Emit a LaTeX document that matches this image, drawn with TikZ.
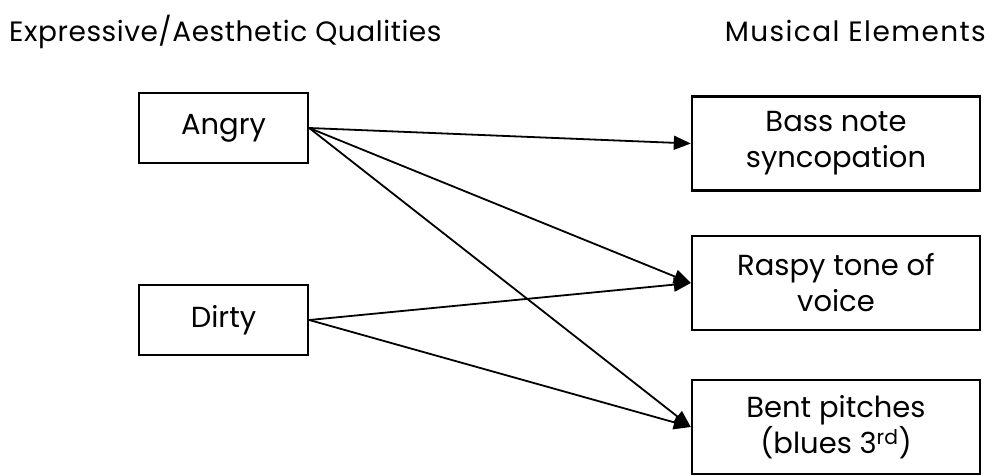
\documentclass[tikz,border=0pt]{standalone}
\usepackage{fontspec}
\setmainfont{Poppins}
\usetikzlibrary{arrows.meta}
\begin{document}
\begin{tikzpicture}[x=1pt,y=-1pt]
       \tikzstyle{headnode}=[inner sep=0pt, font=\fontsize{28}{32}\selectfont\addfontfeatures{LetterSpace=2}]
       \tikzstyle{qualbox}=[draw, line width=2.4pt, minimum width=169pt, minimum height=70pt, font=\fontsize{29}{34}\selectfont]
       \tikzstyle{elembox}=[draw, line width=2.4pt, minimum width=288pt, minimum height=94pt, align=center, font=\fontsize{29}{36}\selectfont]
       \tikzstyle{link}=[line width=1.8pt, -{Triangle[length=17pt,width=14pt]}]
       \useasboundingbox (0,0) rectangle (993,474);
       \node[headnode, anchor=base west] (qualhead) at (9,41) {Expressive/Aesthetic Qualities};
       \node[headnode, anchor=base east, font=\fontsize{28}{32}\selectfont\addfontfeatures{LetterSpace=5}] (elemhead) at (986,41) {Musical Elements};
       \node[qualbox] (angry) at (223.5,128) {Angry};
       \node[qualbox] (dirty) at (223.5,320) {Dirty};
       \node[elembox] (bass) at (836,143.5) {Bass note\\syncopation};
       \node[elembox] (raspy) at (836,283) {Raspy tone of\\voice};
       \node[elembox] (bent) at (836,427) {Bent pitches\\(blues 3\textsuperscript{rd})};
       \draw[link] (angry.east) -- (bass.west);
       \draw[link] (angry.east) -- (raspy.west);
       \draw[link] (angry.east) -- (bent.west);
       \draw[link] (dirty.east) -- (raspy.west);
       \draw[link] (dirty.east) -- (bent.west);
      \end{tikzpicture}
\end{document}
